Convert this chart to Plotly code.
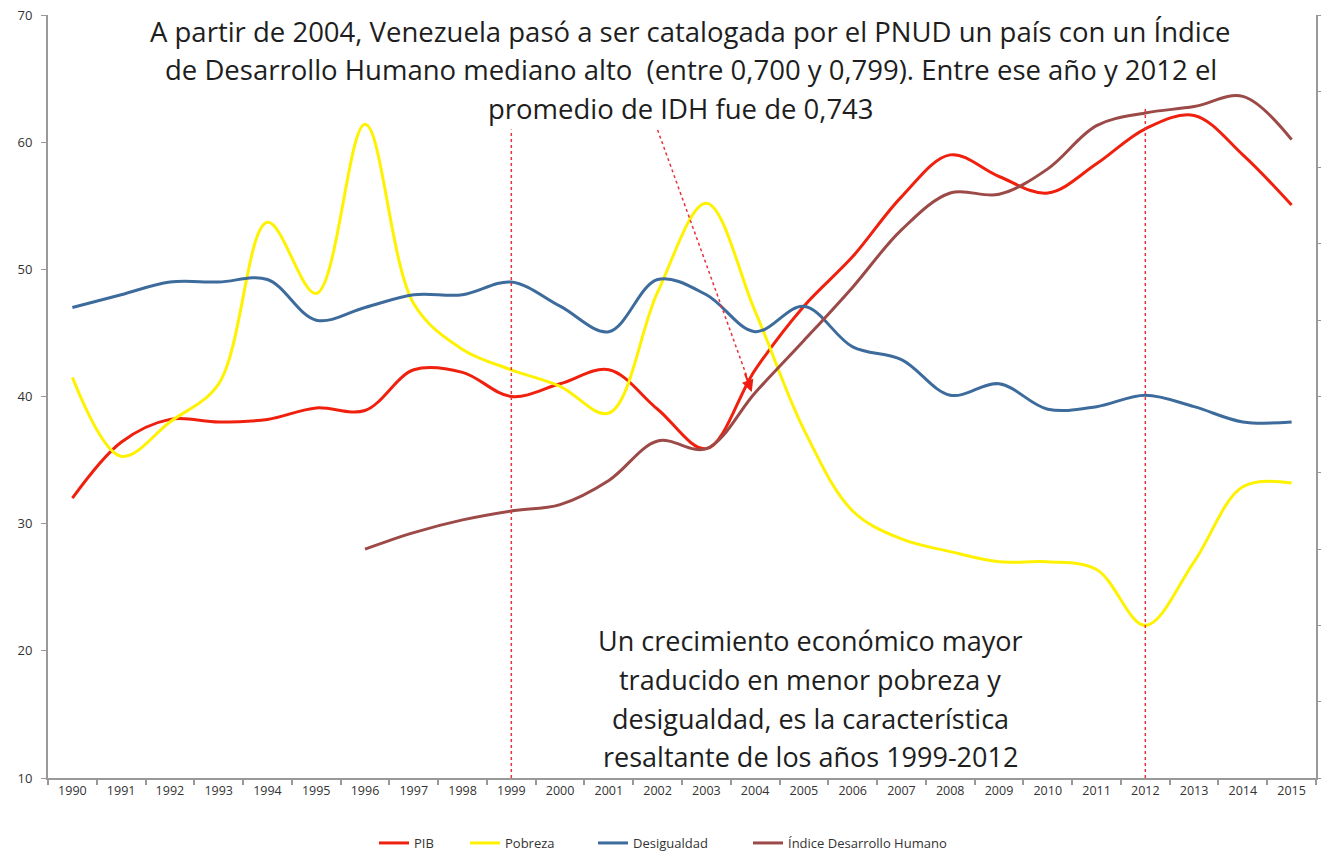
import plotly.graph_objects as go

years = list(range(1990, 2016))
pib = [32.0, 36.4, 38.2, 38.0, 38.2, 39.1, 38.9, 42.1, 41.9, 40.0, 41.0, 42.1, 39.0, 35.9,
       42.1, 47.1, 51.0, 55.7, 59.0, 57.3, 56.0, 58.3, 61.05, 62.1, 59.0, 55.05]
pobreza = [41.5, 35.3, 38.0, 41.0, 53.7, 48.1, 61.4, 47.3, 43.7, 42.1, 40.8, 38.7, 48.2, 55.2,
           46.7, 37.4, 31.0, 28.8, 27.8, 27.0, 27.0, 26.4, 22.0, 27.0, 32.9, 33.2]
desigualdad = [47.0, 48.0, 49.0, 49.0, 49.2, 46.0, 47.0, 48.0, 48.0, 49.0, 47.1, 45.1, 49.2, 48.0,
               45.1, 47.1, 43.9, 42.9, 40.1, 41.0, 39.0, 39.2, 40.1, 39.2, 38.0, 38.0]
idh = [None, None, None, None, None, None, 28.0, 29.3, 30.3, 31.0, 31.5, 33.4, 36.5, 35.9,
       40.3, 44.4, 48.6, 53.1, 56.0, 55.9, 57.9, 61.3, 62.3, 62.8, 63.6, 60.2]

series_names = ["PIB", "Pobreza", "Desigualdad", "Índice Desarrollo Humano"]
series_colors = ["#f0200f", "#fff200", "#3d6b9c", "#9c4a47"]
legend_ids = ["legend", "legend2", "legend3", "legend4"]
legend_starts = [378, 469, 597, 752]
marker_years = [1999, 2012]
marker_tops = [61.0, 62.7]

top_lines = [
    "A partir de 2004, Venezuela pasó a ser catalogada por el PNUD un país con un Índice",
    "de Desarrollo Humano mediano alto  (entre 0,700 y 0,799). Entre ese año y 2012 el",
    "promedio de IDH fue de 0,743",
]
bottom_lines = [
    "Un crecimiento económico mayor",
    "traducido en menor pobreza y",
    "desigualdad, es la característica",
    "resaltante de los años 1999-2012",
]

W, H = 1321, 861
L, R, T, B = 48, 5, 15, 83
PW, PH = W - L - R, H - T - B
ymin, ymax = 10, 70


def px_to_y(py):
    return ymax - (py - T) / PH * (ymax - ymin)


def paper_x(px):
    return (px - L) / PW


def paper_y(py):
    return (H - B - py) / PH


fig = go.Figure()
for name, vals, col, lg in zip(series_names, [pib, pobreza, desigualdad, idh], series_colors,
                               legend_ids):
    fig.add_trace(go.Scatter(
        x=years, y=vals, name=name, mode="lines", legend=lg,
        line=dict(color=col, width=3, shape="spline", smoothing=1.0),
        connectgaps=False,
    ))

fig.add_trace(go.Scatter(x=[None], y=[None], yaxis="y2", showlegend=False, hoverinfo="skip"))

shapes = []
for yr, top in zip(marker_years, marker_tops):
    shapes.append(dict(type="line", xref="x", yref="y", x0=yr, x1=yr, y0=ymin, y1=top,
                       line=dict(color="#e8323c", width=1.5, dash="dot")))
shapes.append(dict(type="line", xref="x", yref="y", x0=2002.0, y0=px_to_y(130),
                   x1=2003.9, y1=px_to_y(386),
                   line=dict(color="#e8323c", width=1.5, dash="dot")))

annotations = []
annotations.append(dict(x=2003.93, y=px_to_y(392), xref="x", yref="y",
                        ax=2003.78, ay=px_to_y(372), axref="x", ayref="y",
                        text="", showarrow=True, arrowhead=2, arrowsize=1.2,
                        arrowwidth=2, arrowcolor="#ee1c11"))

top_y = [32, 70, 108]
top_x = [690, 691, 681]
for txt, yy, xx in zip(top_lines, top_y, top_x):
    annotations.append(dict(text=txt, x=paper_x(xx), y=paper_y(yy), xref="paper", yref="paper",
                            xanchor="center", yanchor="middle", showarrow=False,
                            font=dict(family="Open Sans", size=27.5, color="#1e1e1e")))
bot_y = [640, 679, 718, 756]
for txt, yy in zip(bottom_lines, bot_y):
    annotations.append(dict(text=txt, x=paper_x(810), y=paper_y(yy), xref="paper", yref="paper",
                            xanchor="center", yanchor="middle", showarrow=False,
                            font=dict(family="Open Sans", size=27, color="#1e1e1e")))

legend_layout = {}
for lg, sx in zip(legend_ids, legend_starts):
    legend_layout[lg] = dict(orientation="h", x=paper_x(sx - 4), xanchor="left",
                             y=paper_y(843), yanchor="middle",
                             font=dict(family="Open Sans", size=13, color="#333333"),
                             bgcolor="rgba(0,0,0,0)", borderwidth=0, itemwidth=30)

fig.update_layout(
    width=W, height=H,
    margin=dict(l=L, r=R, t=T, b=B, autoexpand=False),
    paper_bgcolor="white", plot_bgcolor="white",
    showlegend=True,
    xaxis=dict(range=[1989.5, 2015.5], tickmode="array", tickvals=years, automargin=False,
               ticktext=[str(y) for y in years], ticks="", showgrid=False, zeroline=False,
               showline=True, linecolor="#999999", linewidth=2,
               tickfont=dict(family="Open Sans", size=12.5, color="#333333"),
               minor=dict(tickmode="array", tickvals=[y - 0.5 for y in years] + [2015.5],
                          ticks="outside", ticklen=5, tickcolor="#999999", tickwidth=1.5,
                          showgrid=False)),
    yaxis=dict(range=[ymin, ymax], dtick=10, ticks="outside", ticklen=5, tickcolor="#999999",
               automargin=False, ticklabelstandoff=6,
               showgrid=False, zeroline=False, showline=True, linecolor="#999999", linewidth=2,
               tickfont=dict(family="Open Sans", size=13, color="#333333")),
    yaxis2=dict(range=[0, 10], dtick=1, overlaying="y", side="right", showticklabels=False,
                automargin=False,
                ticks="outside", ticklen=5, tickcolor="#999999", showgrid=False, zeroline=False,
                showline=True, linecolor="#999999", linewidth=2),
    shapes=shapes,
    annotations=annotations,
    **legend_layout,
)

fig.write_html("out.html", config={"displayModeBar": False},
               post_script="document.body.style.margin='0';")
